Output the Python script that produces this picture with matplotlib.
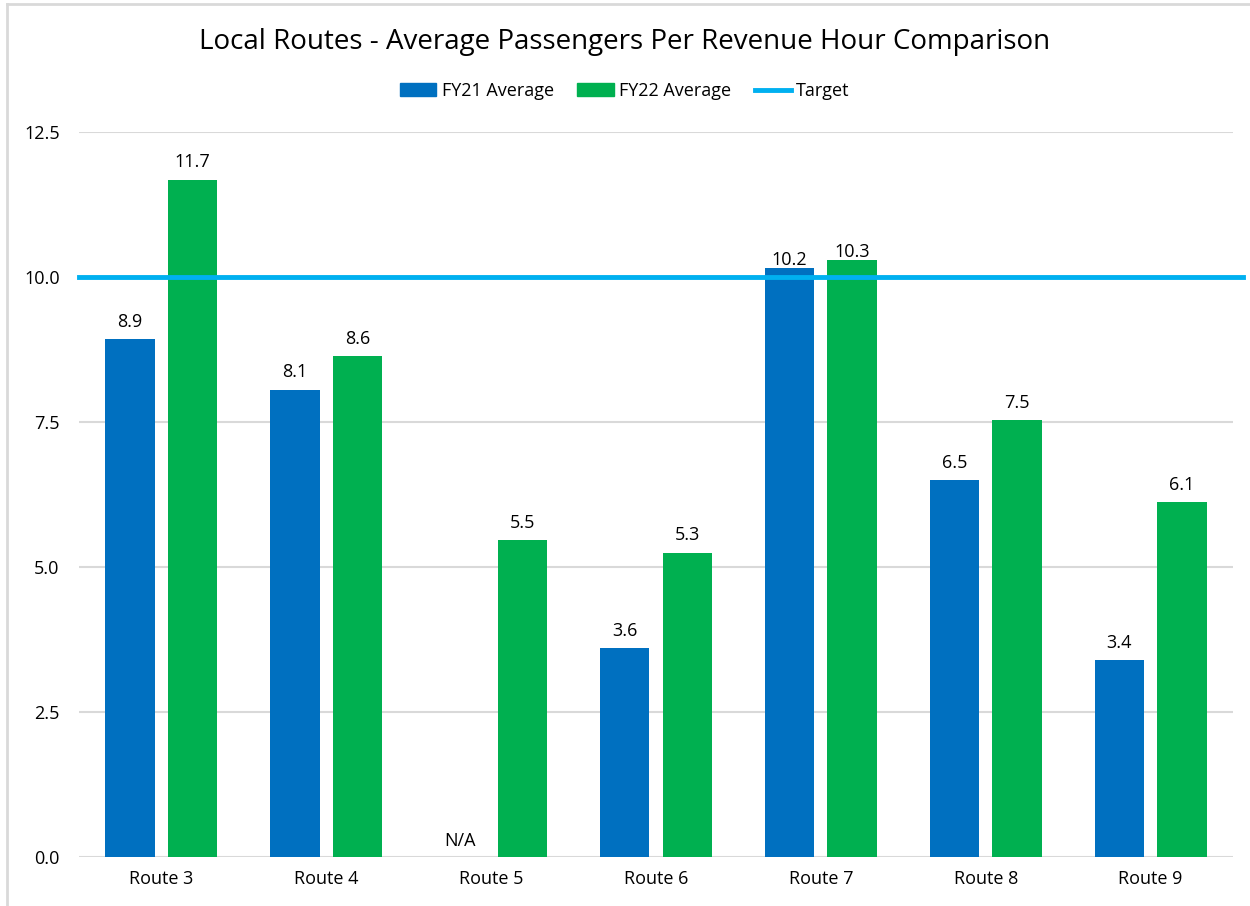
#!/usr/bin/env python3
"""Local Routes - Average Passengers Per Revenue Hour Comparison"""

import numpy as np
import matplotlib
matplotlib.use("Agg")
import matplotlib.pyplot as plt
from matplotlib.patches import Rectangle
from matplotlib.lines import Line2D

# Data
ROUTES = ['Route 3', 'Route 4', 'Route 5', 'Route 6', 'Route 7', 'Route 8', 'Route 9']
FY21 = [8.93, 8.06, np.nan, 3.6, 10.16, 6.5, 3.39]
FY22 = [11.68, 8.64, 5.47, 5.25, 10.29, 7.53, 6.12]
FY21_LABELS = ['8.9', '8.1', 'N/A', '3.6', '10.2', '6.5', '3.4']
FY22_LABELS = ['11.7', '8.6', '5.5', '5.3', '10.3', '7.5', '6.1']
TARGET = 10.0
Y_TICKS = [0.0, 2.5, 5.0, 7.5, 10.0, 12.5]

BLUE = '#0070C0'
GREEN = '#00B050'
TARGET_COLOR = '#00B0F0'
GRID = '#D9D9D9'

plt.rcParams['font.family'] = ['Open Sans', 'DejaVu Sans']


def label_offset(v):
    # labels sitting on the target line are nudged down onto the bar top
    return -0.02 if abs(v - TARGET) < 0.5 else 0.14


fig = plt.figure(figsize=(12.5, 9.06), dpi=100)
# chart border (top and left edges visible in the crop)
fig.add_artist(Line2D([7 / 1250, 1], [1 - 4 / 906, 1 - 4 / 906],
                      transform=fig.transFigure, color=GRID, linewidth=2))
fig.add_artist(Line2D([7 / 1250, 7 / 1250], [0, 1 - 4 / 906],
                      transform=fig.transFigure, color=GRID, linewidth=2))

ax = fig.add_axes([79 / 1250, 1 - 857 / 906, 1154 / 1250, 725 / 906])

x = np.arange(len(ROUTES))
w = 0.30
off = 0.19
fy21_vals = np.nan_to_num(FY21, nan=0.0)
ax.bar(x - off, fy21_vals, width=w, color=BLUE, zorder=3)
ax.bar(x + off, FY22, width=w, color=GREEN, zorder=3)
ax.axhline(TARGET, xmin=0, xmax=1.009, color=TARGET_COLOR, linewidth=3.5,
           zorder=4, clip_on=False)

for i in range(len(ROUTES)):
    if np.isnan(FY21[i]):
        ax.text(x[i] - off, 0.12, FY21_LABELS[i], ha='center', va='bottom', fontsize=13)
    else:
        ax.text(x[i] - off, FY21[i] + label_offset(FY21[i]), FY21_LABELS[i],
                ha='center', va='bottom', fontsize=13, zorder=5)
    ax.text(x[i] + off, FY22[i] + label_offset(FY22[i]), FY22_LABELS[i],
            ha='center', va='bottom', fontsize=13, zorder=5)

ax.set_xlim(-0.5, len(ROUTES) - 0.5)
ax.set_ylim(0, 12.5)
ax.set_yticks(Y_TICKS)
ax.set_yticklabels([f'{t:.1f}' for t in Y_TICKS], fontsize=13)
ax.set_xticks(x)
ax.set_xticklabels(ROUTES, fontsize=13)
ax.tick_params(axis='both', length=0)
ax.tick_params(axis='x', pad=9)
ax.tick_params(axis='y', pad=14)
ax.grid(True, axis='y', color=GRID, linewidth=1.5, zorder=0)
for s in ax.spines.values():
    s.set_visible(False)

fig.text(0.5, 1 - 42 / 906, 'Local Routes - Average Passengers Per Revenue Hour Comparison',
         ha='center', va='center', fontsize=20)

handles = [Rectangle((0, 0), 1, 1, color=BLUE),
           Rectangle((0, 0), 1, 1, color=GREEN),
           Line2D([0], [0], color=TARGET_COLOR, linewidth=3.5)]
fig.legend(handles, ['FY21 Average', 'FY22 Average', 'Target'],
           loc='center', bbox_to_anchor=(0.5, 1 - 91 / 906), ncol=3,
           frameon=False, fontsize=13, handlelength=2.0, handletextpad=0.3,
           columnspacing=1.3)

plt.savefig('out.png', dpi=100)
plt.close()
